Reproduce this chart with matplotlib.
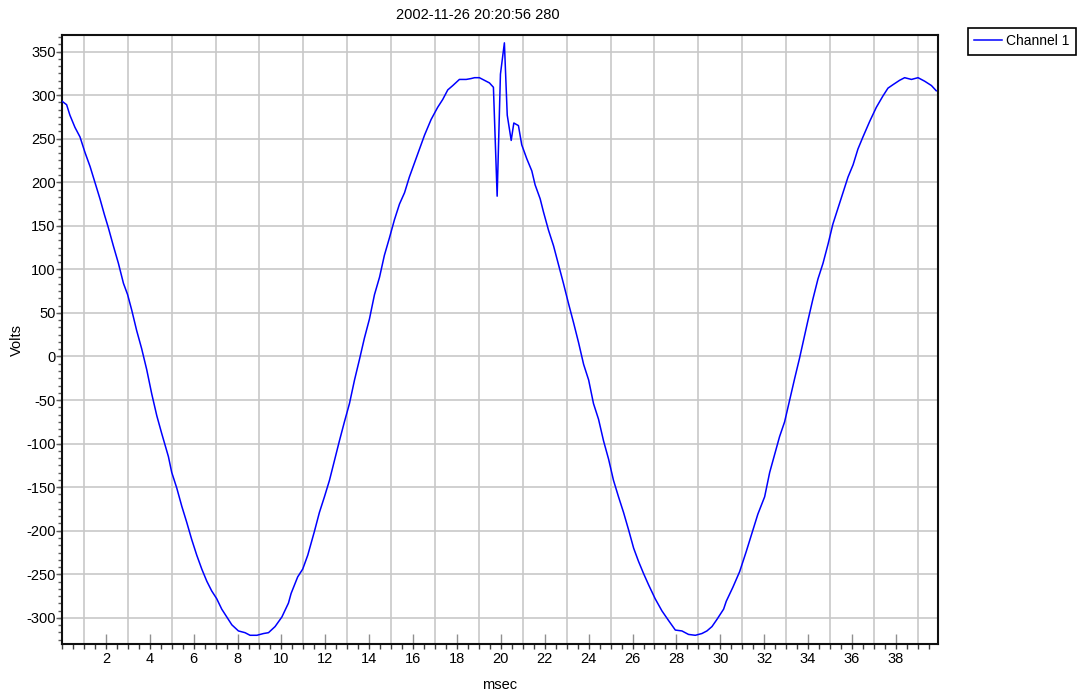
import numpy as np
import matplotlib
matplotlib.use("Agg")
import matplotlib.pyplot as plt
from matplotlib import font_manager
from matplotlib.ticker import MultipleLocator

# values
msec = [0, 0.21, 0.36, 0.59, 0.82, 1.05, 1.28, 1.5, 1.73, 1.93,
        2.11, 2.34, 2.57, 2.8, 2.99, 3.18, 3.4, 3.63, 3.86, 4.09,
        4.32, 4.54, 4.85, 5.0, 5.23, 5.46, 5.68, 5.91, 6.14, 6.37,
        6.6, 6.82, 7.05, 7.28, 7.51, 7.74, 8.04, 8.34, 8.57, 8.88,
        9.18, 9.41, 9.71, 10.02, 10.32, 10.44, 10.74, 10.97, 11.2, 11.5,
        11.73, 11.96, 12.19, 12.41, 12.64, 12.87, 13.1, 13.33, 13.55, 13.78,
        14.01, 14.24, 14.47, 14.69, 14.92, 15.15, 15.38, 15.61, 15.83, 16.06,
        16.29, 16.52, 16.82, 17.12, 17.35, 17.58, 17.81, 18.11, 18.42, 18.64,
        18.8, 19.02, 19.25, 19.48, 19.66, 19.83, 19.98, 20.16, 20.29, 20.47,
        20.59, 20.8, 20.95, 21.18, 21.41, 21.56, 21.79, 21.94, 22.17, 22.4,
        22.63, 22.85, 23.08, 23.31, 23.54, 23.77, 24.0, 24.22, 24.45, 24.68,
        24.91, 25.13, 25.36, 25.59, 25.82, 26.05, 26.27, 26.5, 26.73, 27.03,
        27.34, 27.64, 27.95, 28.25, 28.55, 28.86, 29.16, 29.39, 29.62, 29.84,
        30.15, 30.27, 30.57, 30.88, 31.18, 31.49, 31.71, 32.02, 32.25, 32.47,
        32.7, 32.93, 33.16, 33.39, 33.61, 33.77, 33.99, 34.22, 34.45, 34.68,
        34.91, 35.13, 35.36, 35.59, 35.82, 36.05, 36.27, 36.5, 36.81, 37.11,
        37.41, 37.64, 37.87, 38.17, 38.4, 38.71, 39.01, 39.31, 39.62, 39.84]
volts = [293, 289, 277, 263, 252, 234, 218, 200, 181, 163,
         148, 127, 107, 84, 71, 53, 30, 9, -15, -43,
         -68, -88, -115, -133, -151, -172, -190, -210, -228, -244,
         -258, -269, -278, -290, -299, -308, -315, -317, -320, -320,
         -318, -317, -310, -299, -283, -272, -253, -244, -228, -201,
         -179, -161, -142, -120, -97, -75, -54, -27, -4, 21,
         43, 71, 91, 116, 136, 157, 175, 188, 206, 222,
         238, 254, 272, 286, 295, 306, 311, 318, 318, 319,
         320, 320, 317, 314, 309, 184, 324, 360, 277, 248,
         268, 265, 243, 227, 213, 197, 181, 166, 145, 127,
         105, 84, 61, 39, 16, -9, -27, -54, -72, -97,
         -118, -142, -161, -179, -199, -220, -235, -249, -262, -278,
         -292, -303, -314, -315, -319, -320, -318, -315, -310, -302,
         -290, -281, -265, -247, -224, -199, -181, -161, -133, -113,
         -92, -75, -50, -25, -2, 16, 41, 66, 89, 107,
         129, 152, 170, 188, 206, 220, 238, 252, 270, 286,
         299, 308, 312, 317, 320, 318, 320, 316, 311, 305]

title = "2002-11-26 20:20:56 280"
series_name = "Channel 1"

# the reference uses a narrow sans; take the narrowest one that is installed
family, fs, leg_fs = 'DejaVu Sans', 9.5, 9
for name, size, lsize in [('Liberation Sans Narrow', 11, 11),
                          ('DejaVu Sans Condensed', 10, 10),
                          ('Liberation Sans', 10.5, 10)]:
    try:
        font_manager.findfont(name, fallback_to_default=False)
        family, fs, leg_fs = name, size, lsize
        break
    except ValueError:
        pass
plt.rcParams['font.family'] = [family, 'DejaVu Sans']
plt.rcParams['axes.unicode_minus'] = False

W, H = 1079, 693
fig = plt.figure(figsize=(W / 100, H / 100), dpi=100)
ax = fig.add_axes([62 / W, 1 - 644 / H, (938 - 62) / W, (644 - 35) / H])

ax.plot(msec, volts, color='#0000ff', lw=1.1, label=series_name, zorder=3)

ax.set_xlim(0, 39.92)
ax.set_ylim(-330, 369)

# x axis: labels on even msec, grid on odd msec
ax.xaxis.set_minor_locator(MultipleLocator(0.5))
ax.xaxis.remove_overlapping_locs = False
ax.set_xticks(np.arange(2, 39, 2))
ax.tick_params(axis='x', which='major', direction='in', length=7, width=1,
               color='#909090', labelsize=fs, pad=6)
ax.tick_params(axis='x', which='minor', direction='out', length=3.5, width=1,
               color='#404040')
for xv in range(1, 40, 2):
    ax.axvline(xv, color='#c8c8c8', lw=1.2, zorder=1)

ax.yaxis.set_major_locator(MultipleLocator(50))
ax.yaxis.set_minor_locator(MultipleLocator(50 / 6))
ax.yaxis.remove_overlapping_locs = False
ax.tick_params(axis='y', which='major', direction='out', length=4, width=1,
               color='#606060', labelsize=fs, pad=0.5)
ax.tick_params(axis='y', which='minor', direction='out', length=3, width=1,
               color='#606060')
ax.yaxis.grid(True, which='major', color='#c8c8c8', lw=1.2, zorder=1)
ax.set_axisbelow(True)

for s in ax.spines.values():
    s.set_linewidth(1.5)
    s.set_color('#101010')

fig.text(478 / W, 1 - 15 / H, title, ha='center', va='center', fontsize=fs)
fig.text(500 / W, 1 - 685 / H, "msec", ha='center', va='center', fontsize=fs)
fig.text(17 / W, 1 - 340 / H, "Volts", ha='center', va='center',
         rotation=90, fontsize=fs)

leg = fig.legend(loc='upper left', bbox_to_anchor=(968 / W, 1 - 28 / H),
                 borderaxespad=0, fancybox=False, fontsize=leg_fs,
                 handlelength=2.0, handletextpad=0.3, borderpad=0.45,
                 framealpha=1)
leg.get_frame().set_edgecolor('black')
leg.get_frame().set_linewidth(1.2)

fig.savefig("out.png", dpi=100)
